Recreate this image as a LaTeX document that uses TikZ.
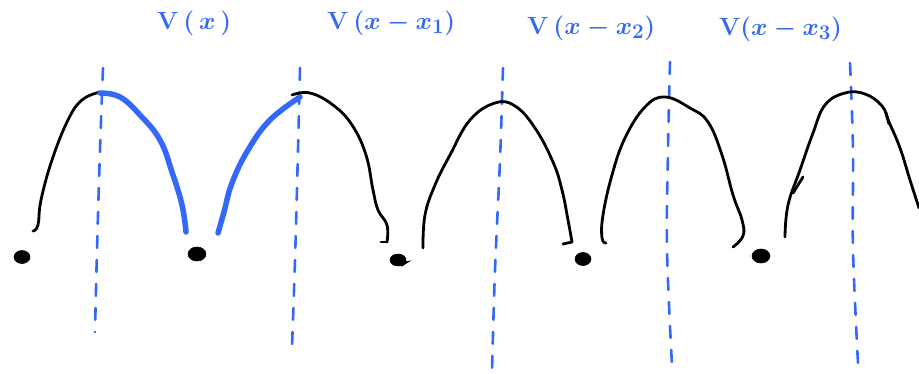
\documentclass[tikz,border=0pt]{standalone}
\usetikzlibrary{calc}
\definecolor{penblue}{RGB}{52,104,250}
\tikzset{
  arch/.style={line width=2.8pt, black, line cap=round, line join=round},
  hilite/.style={line width=5.5pt, penblue, line cap=round, line join=round},
  axis/.style={line width=2.6pt, penblue, dash pattern=on 12pt off 12pt, line cap=round},
  blob/.style={fill=black, draw=black, line width=0.6pt},
  lbl/.style={text=penblue, font=\fontsize{29}{32}\selectfont\boldmath, inner sep=0pt, anchor=west}
}
\begin{document}
\begin{tikzpicture}[x=1pt,y=-1pt]
\useasboundingbox (0,0) rectangle (919,373);
% dashed axes
\draw[axis] plot[smooth, tension=0.6] coordinates {(103,68) (100,150) (97,250) (95,332)};
\draw[axis] plot[smooth, tension=0.6] coordinates {(300,68) (298,150) (295,260) (292,347)};
\draw[axis] plot[smooth, tension=0.6] coordinates {(503,68) (500,160) (495,270) (492,372)};
\draw[axis] plot[smooth, tension=0.6] coordinates {(670,62) (668,150) (667,250) (672,365)};
\draw[axis] plot[smooth, tension=0.6] coordinates {(850,63) (853,150) (853,250) (858,363)};
% arch 1
\draw[arch] plot[smooth, tension=0.7] coordinates {(33,231) (38,225) (41,200) (52,160) (68,120) (82,100) (100,92)};
\draw[hilite] plot[smooth, tension=0.7] coordinates {(100,93) (120,97) (140,115) (160,140) (172,172) (182,205) (186,232)};
% arch 2
\draw[hilite] plot[smooth, tension=0.7] coordinates {(218,233) (224,212) (232,183) (248,150) (270,120) (300,97)};
\draw[arch] plot[smooth, tension=0.7] coordinates {(292,95) (310,93) (333,105) (352,125) (366,155) (373,190) (378,210) (387,225) (387,242)};
\draw[arch] (387,242) -- (381,242);
% arch 3
\draw[arch] plot[smooth, tension=0.7] coordinates {(423,248) (425,215) (435,185) (450,155) (470,120) (495,103) (515,106) (535,128) (553,162) (562,190) (568,220) (572,242)};
\draw[arch] (572,242) -- (563,244);
% arch 4
\draw[arch] plot[smooth, tension=0.7] coordinates {(606,243) (602,238) (603,215) (612,175) (625,138) (645,107) (665,97) (690,108) (708,122) (722,155) (733,195) (742,220) (743,236) (733,247)};
% arch 5
\draw[arch] plot[smooth, tension=0.7] coordinates {(785,237) (788,205) (800,170) (813,133) (825,105) (845,93) (865,94) (882,106) (889,122) (900,148) (910,180) (919,208)};
\draw[arch] (803,177) -- (793,193);
\draw[arch] (886,113) -- (889,124);
% dots
\fill[blob] (22,257) ellipse [x radius=8, y radius=6.5];
\fill[blob] (197,254) ellipse [x radius=9, y radius=7];
\fill[blob] (398,260) ellipse [x radius=8, y radius=6];
\fill[blob] (404,262) -- (410,261) -- (402,266) -- cycle;
\fill[blob] (583,259) ellipse [x radius=8, y radius=6.5];
\fill[blob] (761,256) ellipse [x radius=9, y radius=7];
% labels
\node[lbl] (l0) at (157,23) {$\mathrm{V}\,(\,x\,)$};
\node[lbl] (l1) at (327,23) {$\mathrm{V}\,(x-x_1)$};
\node[lbl] (l2) at (527,28) {$\mathrm{V}\,(x-x_2)$};
\node[lbl] (l3) at (719,29) {$\mathrm{V}(x-x_3)$};
\end{tikzpicture}
\end{document}
